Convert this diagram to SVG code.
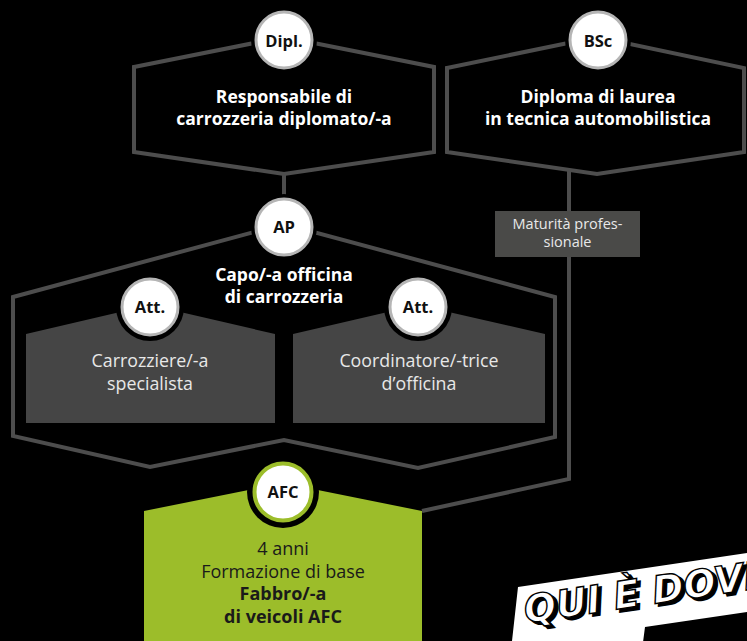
<svg xmlns="http://www.w3.org/2000/svg" width="747" height="641" viewBox="0 0 747 641">
<style>
.bg{fill:#000}
.hex{fill:none;stroke:#4d4d4d;stroke-width:4;stroke-linejoin:miter}
.conn{fill:none;stroke:#4d4d4d;stroke-width:4}
.box{fill:#454545}
.gap{fill:#000}
.ring{fill:#fff;stroke:#b5b5b5;stroke-width:3}
.ringg{fill:#fff;stroke:#9cbd2a;stroke-width:4}
.badge{font-family:"Open Sans","Liberation Sans",sans-serif;font-weight:700;font-size:16.5px;fill:#111;text-anchor:middle}
.title{font-family:"Open Sans","Liberation Sans",sans-serif;font-weight:700;font-size:17.5px;fill:#fff;text-anchor:middle}
.reg{font-family:"Open Sans","Liberation Sans",sans-serif;font-weight:400;font-size:17.8px;fill:#e8e8e8;text-anchor:middle}
.dark{font-family:"Open Sans","Liberation Sans",sans-serif;font-size:18px;fill:#1a1a1a;text-anchor:middle}
.small{font-family:"Open Sans","Liberation Sans",sans-serif;font-size:14.5px;fill:#e8e8e8;text-anchor:middle}
.qui{font-family:"DejaVu Sans",sans-serif;font-weight:700;font-style:italic;font-size:38px}
</style>
<rect class="bg" x="0" y="0" width="747" height="641"/>

<g id="connectors">
  <line class="conn" x1="284" y1="173" x2="284" y2="200"/>
  <polyline class="conn" points="569,170 569,479 422,511"/>
  <g id="label-maturita">
    <rect x="495" y="211" width="145" height="46" fill="#4a4a48"/>
    <text class="small" x="567.5" y="229">Maturità profes-</text>
    <text class="small" x="567.5" y="247">sionale</text>
  </g>
</g>

<g id="node-dipl">
  <polygon class="hex" points="134,67 284,37 434,67 434,152 284,174 134,152"/>
  <circle class="gap" cx="284" cy="40" r="33"/>
  <circle class="ring" cx="284" cy="40" r="28"/>
  <text class="badge" x="284" y="46.5">Dipl.</text>
  <text class="title" x="284" y="103">Responsabile di</text>
  <text class="title" x="284" y="125">carrozzeria diplomato/-a</text>
</g>

<g id="node-bsc">
  <polygon class="hex" points="447,68 597,37 744,68 744,152 597,174 447,152"/>
  <circle class="gap" cx="598" cy="40" r="33"/>
  <circle class="ring" cx="598" cy="40" r="28"/>
  <text class="badge" x="598" y="46.5">BSc</text>
  <text class="title" x="598" y="103">Diploma di laurea</text>
  <text class="title" x="598" y="125">in tecnica automobilistica</text>
</g>

<g id="node-ap">
  <polygon class="hex" points="13,297 284,224 555,297 555,437 418,468 284,440 150,467 13,436"/>
  <circle class="gap" cx="284" cy="227" r="33"/>
  <circle class="ring" cx="284" cy="227" r="28"/>
  <text class="badge" x="284" y="233">AP</text>
  <text class="title" x="284" y="281">Capo/-a officina</text>
  <text class="title" x="284" y="303">di carrozzeria</text>
</g>

<g id="node-att1">
  <polygon class="box" points="26,334 150,305 275,334 275,423 26,423"/>
  <circle class="gap" cx="150" cy="307" r="34"/>
  <circle class="ring" cx="150" cy="307" r="28"/>
  <text class="badge" x="150" y="313">Att.</text>
  <text class="reg" x="150" y="367">Carrozziere/-a</text>
  <text class="reg" x="150" y="390">specialista</text>
</g>

<g id="node-att2">
  <polygon class="box" points="293,334 418,305 545,334 545,423 293,423"/>
  <circle class="gap" cx="418" cy="307" r="34"/>
  <circle class="ring" cx="418" cy="307" r="28"/>
  <text class="badge" x="418" y="313">Att.</text>
  <text class="reg" x="419" y="367">Coordinatore/-trice</text>
  <text class="reg" x="419" y="390">d’officina</text>
</g>

<g id="node-afc">
  <polygon points="144,511 283,483 422,511 422,645 144,645" fill="#9cbd2a"/>
  <circle class="gap" cx="283" cy="492" r="36"/>
  <circle class="ringg" cx="283" cy="492" r="28.5"/>
  <text class="badge" x="283" y="498">AFC</text>
  <text class="dark" x="283" y="555">4 anni</text>
  <text class="dark" x="283" y="578">Formazione di base</text>
  <text class="dark" x="283" y="600" font-weight="700">Fabbro/-a</text>
  <text class="dark" x="283" y="623" font-weight="700">di veicoli AFC</text>
</g>

<g id="banner">
  <polygon points="518,587 760,551 760,610 645,627 642,650 511,650" fill="#fff"/>
  <g transform="rotate(-8.5 526 623)">
    <text class="qui" x="529" y="626" fill="#000" stroke="#000" stroke-width="1.5">QUI È DOVE</text>
    <text class="qui" x="526" y="623" fill="#fff" stroke="#000" stroke-width="1.4">QUI È DOVE</text>
  </g>
</g>
</svg>
